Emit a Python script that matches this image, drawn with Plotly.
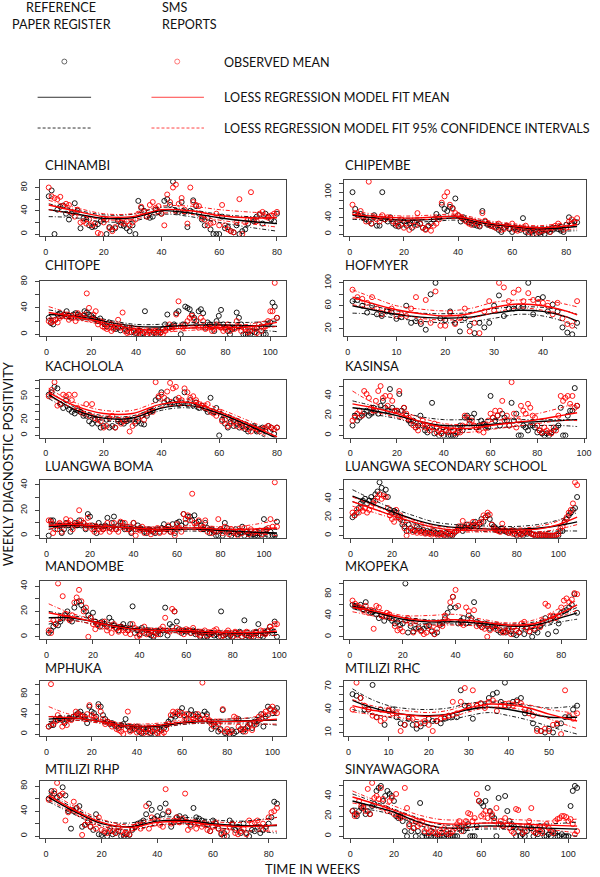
import plotly.graph_objects as go

W, H = 600, 877

# ---------------- DATA (weekly diagnostic positivity) ----------------
# each facility: reference paper register (black) and SMS reports (red); weeks start at 1
chinambi_ref = [65, 75, 0, 42, 47, 49, 35, 25, 35, 53, 40, 10, 27, 25, 15, 12, 13, 17, 22, 26,
                0, 12, 8, 10, 22, 15, 14, 10, 5, 15, 0, 57, 45, 40, 30, 28, 30, 42, 38, 35,
                57, 60, 50, 90, 40, 38, 55, 38, 12, 40, 58, 48, 35, 25, 15, 28, 8, 0, 0, 0,
                30, 10, 12, 5, 3, 15, 0, 5, 8, 18, 25, 22, 30, 33, 18, 35, 30, 25, 22, 35]
chinambi_sms = [80, 65, 62, 60, 64, 48, 52, 50, 38, 30, 42, 20, 22, 18, 25, 15, 18, 2, 0, 20,
                25, 10, 5, 12, 25, 20, 18, 22, 15, 20, 25, 35, 47, 38, 30, 50, 55, 45, 48, 35,
                15, 68, 55, 80, 85, 52, 62, 42, 18, 80, 55, 50, 48, 28, 25, 15, 18, 20, 35, 15,
                50, 15, 8, 5, 3, 20, 60, 0, 20, 25, 72, 25, 22, 35, 38, 30, 28, 32, 35, 38]
chinambi_knots = [1, 10, 20, 30, 40, 50, 60, 70, 80]
chinambi_ref_fit = [[42, 35, 27, 28, 40, 36, 28, 22, 18],
                    [52, 42, 33, 34, 46, 42, 34, 30, 28],
                    [30, 28, 21, 22, 34, 30, 20, 12, 5]]
chinambi_sms_fit = [[50, 40, 30, 30, 42, 40, 32, 28, 28],
                    [58, 46, 35, 35, 48, 48, 42, 38, 35],
                    [42, 34, 25, 25, 36, 34, 24, 18, 12]]

chipembe_ref = [100, 60, 45, 48, 38, 35, 30, 25, 45, 20, 20, 100, 35, 30, 40, 25, 20, 18, 22, 30,
                20, 25, 15, 28, 22, 25, 15, 12, 20, 25, 35, 48, 40, 70, 60, 55, 65, 62, 85, 45,
                30, 40, 32, 28, 25, 22, 20, 18, 55, 30, 22, 20, 18, 15, 10, 5, 15, 20, 12, 5,
                15, 12, 10, 38, 5, 0, 5, 8, 0, 3, 5, 0, 8, 5, 10, 15, 12, 8, 5, 22, 40, 25, 30, 28]
chipembe_sms = [70, 50, 45, 55, 40, 30, 125, 25, 40, 35, 30, 45, 35, 40, 38, 30, 25, 20, 35, 15,
                25, 10, 30, 20, 50, 25, 15, 10, 18, 8, 20, 25, 35, 75, 90, 100, 70, 60, 50, 45,
                40, 35, 30, 25, 22, 30, 25, 20, 50, 32, 25, 20, 18, 15, 25, 10, 12, 20, 15, 25,
                10, 8, 15, 12, 20, 5, 10, 0, 12, 5, 8, 10, 12, 5, 15, 20, 25, 18, 10, 15, 30, 35, 28, 38]
chipembe_knots = [1, 10, 20, 30, 40, 50, 60, 70, 84]
chipembe_ref_fit = [[45, 38, 33, 35, 38, 25, 18, 12, 18],
                    [52, 43, 38, 40, 43, 30, 22, 17, 28],
                    [35, 33, 28, 30, 33, 20, 13, 7, 8]]
chipembe_sms_fit = [[47, 42, 38, 40, 42, 28, 20, 15, 22],
                    [55, 47, 43, 45, 47, 33, 25, 20, 32],
                    [38, 37, 33, 35, 37, 23, 15, 10, 12]]

chitope_ref = [25, 17, 15, 22, 30, 32, 28, 30, 35, 28, 25, 30, 32, 30, 28, 25, 35, 33, 30, 28,
               25, 22, 20, 24, 18, 15, 12, 18, 15, 10, 8, 10, 6, 12, 8, 5, 10, 3, 5, 2,
               5, 0, 2, 35, 0, 5, 0, 2, 0, 5, 3, 8, 15, 30, 10, 12, 15, 32, 35, 0,
               15, 42, 40, 38, 30, 25, 20, 35, 38, 32, 10, 18, 15, 12, 5, 20, 28, 37, 15, 10,
               5, 0, 8, 10, 33, 25, 15, 0, 0, 0, 0, 5, 3, 10, 0, 12, 0, 0, 15, 18, 48, 42, 25]
chitope_sms = [20, 18, 20, 22, 18, 25, 28, 30, 27, 22, 28, 25, 20, 32, 28, 25, 30, 62, 40, 22,
               30, 35, 15, 20, 12, 10, 8, 10, 5, 8, 12, 22, 10, 33, 5, 2, 3, 10, 5, 0,
               2, 5, 0, 3, 0, 2, 0, 5, 3, 0, 2, 0, 5, 10, 15, 8, 12, 30, 50, 12,
               10, 15, 20, 25, 28, 22, 15, 10, 25, 20, 8, 10, 12, 5, 8, 15, 12, 10, 5, 8,
               15, 5, 10, 8, 20, 12, 5, 10, 8, 3, 5, 10, 8, 2, 15, 5, 10, 12, 20, 35, 35, 78, 25]
chitope_knots = [1, 10, 20, 30, 40, 50, 60, 70, 80, 90, 103]
chitope_ref_fit = [[30, 28, 24, 17, 12, 11, 13, 14, 14, 13, 12],
                   [37, 32, 27, 20, 15, 15, 17, 18, 18, 18, 20],
                   [24, 24, 21, 14, 9, 7, 9, 10, 10, 8, 4]]
chitope_sms_fit = [[33, 28, 22, 14, 8, 6, 9, 10, 10, 11, 18],
                   [42, 33, 26, 18, 11, 9, 12, 13, 14, 15, 25],
                   [25, 23, 18, 10, 5, 3, 5, 7, 7, 7, 12]]

hofmyer_ref = [68, 70, 60, 48, 60, 45, 42, 50, 48, 37, 40, 60, 30, 33, 28, 18, 80, 100, 38, 35,
               50, 30, 15, 38, 25, 12, 30, 22, 30, 60, 78, 42, 55, 55, 58, 58, 100, 45, 72, 75,
               50, 62, 50, 22, 13, 10, 30]
hofmyer_sms = [88, 75, 72, 65, 75, 55, 45, 52, 55, 42, 45, 42, 55, 75, 32, 70, 30, 85, 25, 25,
               48, 28, 38, 55, 15, 30, 12, 50, 68, 52, 100, 92, 68, 83, 88, 68, 82, 70, 65, 65,
               60, 45, 65, 38, 28, 25, 68]
hofmyer_knots = [1, 5, 10, 15, 20, 25, 30, 35, 40, 45, 47]
hofmyer_ref_fit = [[60, 53, 45, 40, 38, 40, 47, 52, 50, 40, 33],
                   [68, 60, 51, 47, 46, 48, 55, 58, 57, 50, 45],
                   [47, 45, 38, 33, 30, 32, 38, 45, 42, 30, 20]]
hofmyer_sms_fit = [[75, 64, 53, 46, 42, 46, 57, 63, 60, 50, 44],
                   [88, 75, 60, 54, 51, 55, 66, 70, 70, 62, 58],
                   [62, 55, 47, 38, 35, 38, 48, 56, 52, 40, 30]]

kachalola_ref = [52, 55, 62, 60, 40, 35, 45, 33, 30, 28, 32, 30, 25, 25, 18, 15, 20, 15, 10, 12,
                 20, 10, 12, 10, 18, 17, 15, 18, 20, 20, 15, 18, 15, 14, 25, 30, 32, 45, 48, 55,
                 42, 45, 40, 42, 46, 40, 42, 55, 40, 45, 38, 42, 35, 38, 35, 30, 48, 30, 35, 0,
                 20, 15, 10, 18, 12, 15, 10, 12, 8, 5, 10, 12, 5, 8, 10, 5, 12, 10, 2, 10]
kachalola_sms = [50, 58, 68, 38, 40, 52, 50, 52, 45, 52, 35, 30, 28, 40, 25, 40, 22, 20, 18, 10,
                 12, 22, 25, 10, 20, 15, 18, 20, 5, 12, 18, 22, 25, 20, 28, 32, 30, 68, 50, 52,
                 48, 56, 67, 60, 62, 48, 45, 60, 55, 48, 50, 45, 40, 38, 35, 40, 30, 28, 25, 30,
                 18, 20, 12, 15, 18, 12, 15, 10, 12, 8, 5, 10, 8, 5, 8, 10, 12, 10, 8, 10]
kachalola_knots = [1, 10, 20, 30, 40, 50, 60, 70, 80]
kachalola_ref_fit = [[52, 33, 22, 22, 35, 38, 28, 13, -4],
                     [57, 36, 25, 25, 38, 40, 31, 16, 3],
                     [47, 30, 19, 19, 32, 35, 25, 9, -11]]
kachalola_sms_fit = [[55, 38, 28, 28, 40, 42, 30, 15, -2],
                     [60, 42, 32, 32, 44, 46, 34, 19, 4],
                     [50, 34, 24, 24, 36, 38, 26, 11, -9]]

kasinsa_ref = [10, 20, 15, 18, 20, 22, 25, 20, 22, 28, 25, 22, 30, 35, 28, 25, 47, 28, 25, 25,
               42, 25, 28, 20, 15, 12, 15, 8, 10, 20, 10, 5, 3, 8, 33, 2, 8, 0, 2, 0,
               5, 0, 0, 0, 0, 3, 10, 5, 18, 20, 15, 18, 22, 8, 10, 15, 12, 10, 8, 40,
               18, 15, 20, 10, 22, 18, 15, 10, 33, 15, 22, 0, 0, 10, 8, 5, 10, 10, 8, 3,
               5, 2, 0, 2, 0, 3, 5, 8, 10, 28, 0, 0, 20, 25, 25, 48, 30]
kasinsa_sms = [15, 18, 22, 25, 20, 45, 42, 38, 28, 25, 35, 45, 50, 38, 40, 30, 40, 35, 25, 25,
               45, 20, 28, 22, 18, 15, 10, 8, 5, 12, 15, 8, 10, 5, 8, 12, 3, 5, 2, 8,
               5, 3, 8, 5, 2, 8, 3, 10, 20, 18, 12, 15, 10, 8, 5, 10, 3, 8, 15, 22,
               18, 25, 20, 25, 35, 15, 20, 10, 54, 22, 8, 15, 30, 25, 22, 32, 28, 20, 18, 10,
               5, 3, 8, 5, 3, 2, 8, 5, 20, 40, 35, 38, 40, 32, 40, 28, 30]
kasinsa_knots = [1, 10, 20, 30, 40, 50, 60, 70, 80, 90, 97]
kasinsa_ref_fit = [[28, 25, 20, 14, 10, 10, 11, 13, 14, 15, 16],
                   [35, 30, 25, 19, 16, 16, 16, 16, 16, 16, 16],
                   [22, 21, 17, 10, 6, 6, 7, 9, 10, 10, 9]]
kasinsa_sms_fit = [[32, 28, 22, 14, 8, 7, 10, 13, 16, 20, 23],
                   [45, 33, 26, 18, 12, 11, 14, 18, 22, 28, 33],
                   [20, 23, 18, 10, 4, 3, 6, 9, 12, 15, 15]]

boma_ref = [0, 12, 12, 8, 5, 8, 2, 5, 10, 8, 3, 7, 10, 8, 12, 8, 10, 5, 17, 15,
            8, 5, 2, 10, 7, 5, 8, 14, 6, 10, 15, 5, 8, 10, 10, 5, 7, 5, 2, 10,
            5, 8, 6, 5, 3, 2, 5, 4, 3, 2, 5, 3, 6, 9, 5, 7, 3, 9, 2, 10,
            11, 8, 17, 10, 15, 15, 12, 16, 10, 11, 8, 5, 10, 6, 2, 5, 3, 0, 0, 5,
            0, 10, 6, 3, 0, 2, 5, 1, 2, 7, 0, 3, 2, 0, 1, 0, 0, 2, 0, 13,
            5, 0, 3, 0, 0, 11]
boma_sms = [12, 11, 2, 5, 8, 10, 3, 8, 13, 10, 12, 5, 8, 10, 20, 12, 10, 6, 14, 8,
            5, 3, 7, 5, 3, 5, 6, 10, 3, 5, 10, 5, 3, 11, 8, 10, 5, 7, 3, 10,
            0, 5, 4, 7, 2, 5, 3, 1, 5, 3, 6, 2, 5, 3, 5, 8, 3, 4, 0, 9,
            6, 3, 17, 13, 16, 12, 33, 10, 8, 12, 5, 7, 12, 3, 5, 2, 4, 3, 13, 5,
            2, 7, 3, 1, 5, 3, 2, 0, 4, 2, 6, 3, 1, 5, 2, 3, 2, 4, 1, 3,
            4, 6, 13, 7, 42, 7]
boma_knots = [1, 10, 20, 30, 40, 50, 60, 70, 80, 90, 106]
boma_ref_fit = [[7, 8, 7.5, 7, 6, 5, 5, 5, 4, 3, 2],
                [9, 9.5, 9, 8.5, 7, 6.5, 6.5, 6.5, 5.5, 5, 5],
                [5, 6.5, 6, 5.5, 5, 3.5, 3.5, 3.5, 2.5, 1, -1]]
boma_sms_fit = [[8, 9, 8, 7, 6, 5, 6, 6, 5, 5, 6],
                [11, 10.5, 9.5, 8.5, 7.5, 6.5, 7.5, 8, 7, 7.5, 12],
                [5, 7.5, 6.5, 5.5, 4.5, 3.5, 4.5, 4.5, 3, 2.5, 0]]

lss_ref = [20, 22, 25, 30, 35, 38, 40, 35, 38, 42, 38, 45, 48, 58, 52, 45, 50, 42, 28, 25,
           27, 25, 20, 18, 12, 10, 5, 12, 8, 6, 5, 10, 8, 5, 6, 3, 5, 4, 3, 5,
           3, 2, 3, 2, 0, 3, 2, 0, 0, 3, 5, 8, 10, 5, 8, 12, 8, 10, 12, 15,
           10, 12, 18, 15, 20, 22, 18, 12, 10, 8, 6, 5, 8, 5, 4, 3, 5, 6, 2, 0,
           3, 2, 0, 3, 2, 4, 2, 1, 0, 0, 0, 0, 0, 0, 0, 0, 0, 0, 0, 0,
           5, 5, 15, 18, 22, 25, 28, 30, 42]
lss_sms = [25, 22, 28, 25, 30, 27, 30, 25, 28, 32, 35, 38, 42, 45, 40, 43, 42, 30, 22, 18,
           15, 28, 20, 22, 15, 8, 0, 5, 8, 4, 6, 3, 5, 3, 4, 2, 3, 2, 1, 3,
           2, 0, 1, 2, 1, 0, 3, 2, 1, 4, 5, 10, 8, 16, 10, 8, 12, 10, 15, 12,
           10, 14, 15, 22, 20, 25, 23, 12, 8, 6, 5, 4, 13, 6, 5, 3, 4, 2, 5, 1,
           3, 1, 2, 4, 5, 3, 2, 1, 0, 1, 0, 1, 0, 1, 0, 0, 0, 0, 1, 2,
           8, 10, 14, 20, 25, 28, 35, 58, 55]
lss_knots = [1, 10, 20, 30, 40, 50, 60, 70, 80, 90, 100, 109]
lss_ref_fit = [[43, 35, 26, 18, 12, 9, 8, 7, 7, 8, 11, 15],
               [50, 40, 30, 22, 15, 12, 11, 10, 10, 12, 17, 25],
               [37, 30, 22, 14, 9, 6, 5, 4, 4, 4, 5, 5]]
lss_sms_fit = [[37, 30, 22, 15, 9, 6, 6, 6, 6, 7, 12, 20],
               [42, 34, 25, 17, 11, 8, 8, 8, 8, 10, 16, 28],
               [32, 26, 19, 12, 7, 4, 4, 4, 4, 4, 7, 12]]

mandombe_ref = [3, 5, 8, 10, 9, 12, 15, 17, 20, 14, 12, 23, 27, 28, 25, 22, 20, 17, 15, 19,
                12, 10, 8, 12, 10, 8, 15, 12, 9, 7, 5, 8, 10, 7, 5, 10, 24, 3, 5, 2,
                7, 3, 5, 2, 1, 0, 3, 4, 2, 5, 23, 1, 10, 8, 20, 12, 6, 3, 5, 4,
                5, 3, 5, 2, 4, 0, 3, 0, 0, 2, 3, 1, 2, 0, 20, 1, 2, 0, 1, 0,
                3, 2, 4, 0, 13, 1, 0, 2, 0, 4, 10, 1, 0, 3, 5, 8, 3, 12, 0]
mandombe_sms = [5, 3, 13, 10, 42, 15, 32, 18, 15, 13, 17, 27, 31, 37, 28, 20, 23, 0, 15, 10,
                6, 9, 11, 8, 12, 5, 7, 3, 10, 6, 4, 8, 5, 3, 5, 2, 10, 7, 0, 1,
                4, 8, 2, 3, 5, 1, 3, 2, 6, 8, 15, 5, 4, 22, 20, 7, 4, 5, 2, 6,
                5, 3, 7, 4, 2, 1, 3, 5, 1, 3, 2, 5, 6, 3, 0, 1, 3, 5, 2, 0,
                4, 1, 3, 0, 2, 4, 1, 0, 2, 3, 1, 5, 3, 2, 4, 8, 5, 10, 10]
mandombe_knots = [1, 10, 20, 30, 40, 50, 60, 70, 80, 90, 99]
mandombe_ref_fit = [[15, 15, 12, 8.5, 6, 5, 4.5, 3.5, 3, 3, 3.5],
                    [20, 17, 14, 10, 7.5, 6.5, 6, 5, 4.5, 5, 6],
                    [10, 13, 10, 7, 4.5, 3.5, 3, 2, 1.5, 1, 1]]
mandombe_sms_fit = [[19, 16, 12, 8, 5.5, 5, 5, 4, 3.5, 3.5, 4.5],
                    [26, 19, 14, 10, 7, 6.5, 6.5, 5.5, 5, 5.5, 8],
                    [12, 13, 10, 6, 4, 3.5, 3.5, 2.5, 2, 1.5, 1]]

mkopeka_ref = [60, 58, 55, 60, 52, 65, 50, 45, 48, 42, 35, 40, 30, 38, 35, 30, 25, 28, 22, 25,
               100, 8, 20, 10, 15, 18, 12, 15, 20, 22, 10, 5, 8, 22, 25, 35, 45, 55, 75, 55,
               25, 30, 35, 25, 40, 35, 65, 28, 22, 18, 25, 20, 15, 18, 20, 12, 8, 10, 8, 12,
               10, 5, 3, 8, 15, 5, 18, 10, 0, 12, 8, 20, 25, 35, 5, 30, 38, 10, 25, 45,
               48, 50, 55, 60, 80, 45]
mkopeka_sms = [68, 62, 58, 55, 50, 58, 45, 50, 15, 58, 55, 40, 38, 45, 42, 35, 20, 12, 15, 10,
               30, 35, 25, 8, 30, 15, 10, 5, 8, 20, 12, 5, 15, 25, 20, 40, 30, 65, 75, 88,
               58, 25, 22, 55, 48, 30, 50, 20, 25, 18, 15, 0, 12, 20, 15, 22, 12, 8, 10, 15,
               5, 18, 12, 8, 25, 28, 15, 10, 20, 15, 22, 18, 30, 62, 58, 38, 40, 35, 40, 55,
               68, 72, 65, 70, 82, 80]
mkopeka_knots = [1, 10, 20, 30, 40, 50, 60, 70, 80, 86]
mkopeka_ref_fit = [[58, 45, 33, 28, 28, 25, 20, 22, 36, 45],
                   [62, 48, 37, 32, 32, 29, 24, 28, 43, 55],
                   [53, 40, 28, 24, 24, 21, 16, 16, 28, 33]]
mkopeka_sms_fit = [[55, 48, 36, 30, 32, 28, 22, 25, 45, 60],
                   [60, 52, 40, 40, 42, 33, 26, 32, 55, 68],
                   [47, 38, 28, 22, 22, 20, 16, 18, 38, 50]]

mphuka_ref = [15, 18, 18, 30, 28, 32, 28, 22, 28, 32, 30, 35, 38, 42, 45, 38, 35, 22, 55, 45,
              42, 35, 60, 55, 38, 30, 25, 20, 22, 18, 15, 12, 18, 20, 30, 15, 8, 12, 10, 15,
              5, 2, 10, 5, 10, 2, 5, 0, 12, 10, 8, 12, 18, 25, 30, 38, 35, 40, 45, 52,
              38, 30, 40, 48, 38, 40, 35, 30, 38, 45, 40, 25, 10, 20, 15, 5, 10, 48, 2, 5,
              0, 8, 2, 5, 30, 10, 5, 10, 15, 20, 12, 25, 20, 28, 40, 15, 35, 55, 50, 42,
              48, 52]
mphuka_sms = [15, 100, 20, 25, 38, 30, 15, 25, 18, 30, 28, 35, 45, 40, 38, 35, 30, 40, 58, 38,
              35, 30, 55, 45, 30, 20, 25, 22, 15, 20, 10, 8, 5, 0, 10, 45, 5, 8, 15, 3,
              8, 5, 2, 10, 3, 8, 5, 10, 2, 5, 0, 3, 10, 20, 38, 45, 42, 45, 38, 42,
              35, 40, 28, 38, 30, 35, 40, 32, 103, 30, 35, 28, 20, 15, 25, 20, 8, 50, 5, 10,
              3, 5, 35, 32, 15, 8, 10, 5, 12, 20, 8, 18, 25, 35, 30, 40, 45, 38, 50, 55,
              45, 42]
mphuka_knots = [1, 10, 20, 30, 40, 50, 60, 70, 80, 90, 102]
mphuka_ref_fit = [[30, 32, 28, 20, 15, 16, 22, 25, 26, 27, 28],
                  [35, 36, 31, 23, 18, 19, 25, 28, 30, 32, 38],
                  [25, 28, 25, 17, 12, 13, 19, 22, 22, 22, 18]]
mphuka_sms_fit = [[35, 33, 28, 20, 16, 18, 24, 26, 25, 26, 30],
                  [55, 40, 33, 24, 20, 22, 28, 30, 30, 33, 45],
                  [20, 28, 24, 17, 12, 14, 20, 22, 20, 20, 20]]

rhc_ref = [60, 58, 55, 40, 40, 72, 30, 40, 20, 38, 40, 30, 22, 20, 28, 20, 15, 18, 22, 28,
           25, 25, 22, 28, 30, 32, 30, 65, 45, 42, 28, 45, 48, 45, 55, 60, 62, 50, 75, 45,
           50, 52, 55, 35, 38, 22, 15, 12, 10, 15, 10, 20, 22, 30, 30, 40, 45]
rhc_sms = [40, 75, 55, 45, 40, 32, 30, 25, 28, 40, 35, 35, 12, 20, 30, 28, 20, 22, 25, 20,
           12, 25, 28, 30, 32, 50, 35, 50, 68, 45, 65, 45, 48, 42, 50, 52, 38, 45, 45, 48,
           45, 50, 48, 40, 35, 32, 12, 12, 15, 12, 20, 22, 8, 65, 32, 28, 35]
rhc_knots = [1, 5, 10, 15, 20, 25, 30, 35, 40, 45, 50, 57]
rhc_ref_fit = [[52, 44, 37, 33, 32, 34, 40, 43, 40, 35, 30, 30],
               [67, 55, 45, 41, 40, 42, 48, 50, 48, 45, 42, 45],
               [40, 35, 30, 25, 24, 26, 32, 36, 32, 26, 18, 8]]
rhc_sms_fit = [[45, 40, 36, 33, 31, 34, 42, 47, 46, 42, 34, 25],
               [53, 46, 41, 38, 36, 39, 47, 51, 50, 46, 40, 35],
               [37, 34, 31, 28, 26, 29, 37, 43, 42, 38, 28, 15]]

rhp_ref = [60, 72, 68, 62, 65, 78, 65, 40, 12, 40, 45, 48, 15, 18, 22, 15, 10, 35, 3, 2,
           5, 0, 8, 3, 5, 8, 0, 0, 3, 2, 10, 15, 20, 22, 25, 35, 52, 42, 28, 32,
           45, 35, 52, 38, 15, 22, 30, 32, 25, 30, 22, 18, 45, 30, 28, 25, 22, 18, 8, 25,
           20, 12, 3, 5, 0, 25, 18, 10, 15, 5, 20, 5, 0, 10, 8, 15, 5, 10, 15, 20,
           30, 55, 52]
rhp_sms = [58, 62, 72, 85, 65, 68, 25, 38, 42, 55, 45, 35, 2, 18, 25, 15, 22, 12, 30, 10,
           8, 5, 12, 8, 5, 15, 8, 3, 5, 3, 12, 15, 18, 12, 22, 48, 12, 30, 20, 25,
           18, 15, 75, 40, 20, 25, 30, 22, 28, 68, 10, 15, 22, 12, 20, 15, 18, 10, 8, 15,
           22, 12, 5, 0, 8, 15, 20, 5, 3, 8, 12, 3, 25, 20, 22, 25, 15, 20, 12, 30,
           38, 40, 45]
rhp_knots = [1, 10, 20, 30, 40, 50, 60, 70, 83]
rhp_ref_fit = [[62, 40, 20, 15, 24, 25, 20, 17, 17],
               [68, 45, 25, 21, 30, 30, 26, 24, 30],
               [55, 35, 16, 10, 18, 20, 14, 10, 5]]
rhp_sms_fit = [[65, 42, 22, 14, 22, 23, 18, 15, 18],
               [72, 48, 27, 18, 27, 27, 23, 22, 30],
               [58, 37, 17, 9, 17, 19, 13, 9, 8]]

sinya_ref = [25, 22, 20, 25, 28, 30, 22, 25, 22, 30, 32, 45, 48, 50, 35, 40, 45, 42, 40, 35,
             20, 18, 20, 15, 5, 0, 12, 5, 8, 0, 5, 33, 0, 3, 0, 0, 0, 3, 0, 0,
             0, 0, 0, 2, 0, 0, 0, 0, 0, 8, 10, 5, 8, 12, 0, 0, 0, 10, 35, 33,
             30, 35, 48, 25, 20, 18, 0, 38, 12, 10, 40, 25, 15, 12, 10, 0, 5, 0, 2, 0,
             5, 10, 8, 0, 3, 2, 10, 5, 0, 0, 2, 0, 5, 3, 0, 0, 2, 0, 0, 0,
             30, 45, 50, 48]
sinya_sms = [25, 20, 22, 35, 30, 28, 25, 47, 22, 53, 38, 40, 37, 48, 37, 28, 25, 35, 38, 22,
             42, 20, 18, 20, 48, 28, 10, 15, 8, 15, 10, 12, 15, 5, 8, 3, 5, 8, 3, 2,
             5, 3, 8, 5, 2, 3, 5, 8, 12, 15, 5, 12, 15, 23, 22, 15, 18, 42, 35, 20,
             22, 25, 18, 24, 22, 15, 28, 12, 15, 10, 18, 12, 8, 5, 3, 27, 26, 8, 3, 5,
             10, 15, 28, 5, 3, 8, 5, 3, 10, 12, 8, 5, 3, 15, 17, 18, 20, 20, 19, 15,
             17, 12, 2, 5]
sinya_knots = [1, 10, 20, 30, 40, 50, 60, 70, 80, 90, 104]
sinya_ref_fit = [[35, 30, 24, 15, 9, 8, 10, 10, 9, 8, 7],
                 [42, 35, 27, 19, 12, 11, 13, 13, 12, 12, 14],
                 [28, 26, 21, 12, 6, 5, 7, 7, 6, 4, 0]]
sinya_sms_fit = [[39, 33, 26, 18, 13, 12, 13, 13, 12, 11, 10],
                 [45, 37, 30, 22, 17, 16, 17, 17, 16, 15, 17],
                 [33, 29, 22, 14, 9, 8, 9, 9, 8, 7, 3]]

facility_names = ["CHINAMBI", "CHIPEMBE", "CHITOPE", "HOFMYER", "KACHOLOLA", "KASINSA",
                  "LUANGWA BOMA", "LUANGWA SECONDARY SCHOOL", "MANDOMBE", "MKOPEKA",
                  "MPHUKA", "MTILIZI RHC", "MTILIZI RHP", "SINYAWAGORA"]
ref_series = [chinambi_ref, chipembe_ref, chitope_ref, hofmyer_ref, kachalola_ref, kasinsa_ref,
              boma_ref, lss_ref, mandombe_ref, mkopeka_ref, mphuka_ref, rhc_ref, rhp_ref, sinya_ref]
sms_series = [chinambi_sms, chipembe_sms, chitope_sms, hofmyer_sms, kachalola_sms, kasinsa_sms,
              boma_sms, lss_sms, mandombe_sms, mkopeka_sms, mphuka_sms, rhc_sms, rhp_sms, sinya_sms]
knot_series = [chinambi_knots, chipembe_knots, chitope_knots, hofmyer_knots, kachalola_knots,
               kasinsa_knots, boma_knots, lss_knots, mandombe_knots, mkopeka_knots,
               mphuka_knots, rhc_knots, rhp_knots, sinya_knots]
ref_fits = [chinambi_ref_fit, chipembe_ref_fit, chitope_ref_fit, hofmyer_ref_fit, kachalola_ref_fit,
            kasinsa_ref_fit, boma_ref_fit, lss_ref_fit, mandombe_ref_fit, mkopeka_ref_fit,
            mphuka_ref_fit, rhc_ref_fit, rhp_ref_fit, sinya_ref_fit]
sms_fits = [chinambi_sms_fit, chipembe_sms_fit, chitope_sms_fit, hofmyer_sms_fit, kachalola_sms_fit,
            kasinsa_sms_fit, boma_sms_fit, lss_sms_fit, mandombe_sms_fit, mkopeka_sms_fit,
            mphuka_sms_fit, rhc_sms_fit, rhp_sms_fit, sinya_sms_fit]

# tick marks and which of them carry labels
x_ticks = [[0, 20, 40, 60, 80], [0, 20, 40, 60, 80], [0, 20, 40, 60, 80, 100], [0, 10, 20, 30, 40],
           [0, 20, 40, 60, 80], [0, 20, 40, 60, 80, 100], [0, 20, 40, 60, 80, 100],
           [0, 20, 40, 60, 80, 100], [0, 20, 40, 60, 80, 100], [0, 20, 40, 60, 80],
           [0, 20, 40, 60, 80, 100], [0, 10, 20, 30, 40, 50], [0, 20, 40, 60, 80],
           [0, 20, 40, 60, 80, 100]]
y_ticks = [[0, 20, 40, 60, 80], [0, 20, 40, 60, 80, 100, 120], [0, 20, 40, 60, 80],
           [20, 40, 60, 80, 100], [0, 10, 20, 30, 40, 50, 60, 70], [0, 10, 20, 30, 40, 50],
           [0, 10, 20, 30, 40], [0, 10, 20, 30, 40, 50], [0, 10, 20, 30, 40],
           [0, 20, 40, 60, 80, 100], [0, 20, 40, 60, 80, 100], [10, 20, 30, 40, 50, 60, 70],
           [0, 20, 40, 60, 80], [0, 10, 20, 30, 40, 50]]
y_labels = [[0, 40, 80], [0, 40, 100], [0, 40, 80], [20, 60, 100], [0, 20, 50], [0, 20, 40],
            [0, 20, 40], [0, 20, 40], [0, 20, 40], [0, 40, 80], [0, 40, 80], [10, 40, 70],
            [0, 40, 80], [0, 20, 40]]

# ---------------- LAYOUT (pixel geometry) ----------------
col_px = [(40, 289), (347, 592)]
row_px = [(174, 231), (276, 332), (376, 434), (477, 535), (579, 637), (679, 735), (780, 838)]
title_px = [159, 260, 362, 463, 564, 666, 768]
title_x_px = [44, 347]

BLACK = "#000000"
RED = "#ff0000"
AXC = "#444444"
TITLE_FONT = "Lato"
CI_DASH = "4px,2px,1px,2px"

fig = go.Figure()
annotations = []
shapes = []

for i, name in enumerate(facility_names):
    r, c = divmod(i, 2)
    k = i + 1
    xa = "x" if k == 1 else f"x{k}"
    ya = "y" if k == 1 else f"y{k}"
    ref = ref_series[i]
    sms = sms_series[i]
    n = max(len(ref), len(sms))
    xr = [1 - 0.04 * (n - 1), n + 0.04 * (n - 1)]
    allv = ref + sms
    lo, hi = min(allv), max(allv)
    yr = [lo - 0.04 * (hi - lo), hi + 0.04 * (hi - lo)]

    fig.add_trace(go.Scatter(x=list(range(1, len(ref) + 1)), y=ref, mode="markers",
                             marker=dict(symbol="circle-open", size=5, color=BLACK,
                                         line=dict(width=0.9, color=BLACK)),
                             xaxis=xa, yaxis=ya, showlegend=False, cliponaxis=True))
    fig.add_trace(go.Scatter(x=list(range(1, len(sms) + 1)), y=sms, mode="markers",
                             marker=dict(symbol="circle-open", size=5, color=RED,
                                         line=dict(width=0.9, color=RED)),
                             xaxis=xa, yaxis=ya, showlegend=False, cliponaxis=True))
    kn = knot_series[i]
    for fits, col in ((ref_fits[i], BLACK), (sms_fits[i], RED)):
        for j, vals in enumerate(fits):
            fig.add_trace(go.Scatter(
                x=kn, y=vals, mode="lines",
                line=dict(color=col, width=1.4 if j == 0 else 0.9,
                          dash="solid" if j == 0 else CI_DASH,
                          shape="spline", smoothing=1.0),
                xaxis=xa, yaxis=ya, showlegend=False, hoverinfo="skip"))

    x0, x1 = col_px[c]
    top, bot = row_px[r]
    xkey = "xaxis" if k == 1 else f"xaxis{k}"
    ykey = "yaxis" if k == 1 else f"yaxis{k}"
    fig.layout[xkey] = dict(
        domain=[x0 / W, x1 / W], anchor=ya, range=xr,
        tickmode="array", tickvals=x_ticks[i], ticktext=[str(t) for t in x_ticks[i]],
        ticks="outside", ticklen=4, tickwidth=1, tickcolor=AXC,
        showline=True, mirror=True, linecolor=AXC, linewidth=1,
        showgrid=False, zeroline=False, ticklabelstandoff=3,
        tickfont=dict(family="Liberation Sans, Arial", size=9, color="#222"))
    fig.layout[ykey] = dict(
        domain=[1 - bot / H, 1 - top / H], anchor=xa, range=yr,
        tickmode="array", tickvals=y_ticks[i],
        ticktext=[str(t) if t in y_labels[i] else "" for t in y_ticks[i]],
        tickangle=-90,
        ticks="outside", ticklen=4, tickwidth=1, tickcolor=AXC,
        showline=True, mirror=True, linecolor=AXC, linewidth=1,
        showgrid=False, zeroline=False, ticklabelstandoff=4,
        tickfont=dict(family="Liberation Sans, Arial", size=9, color="#222"))

    annotations.append(dict(text=name, x=title_x_px[c] / W, y=1 - title_px[r] / H,
                            xref="paper", yref="paper", xanchor="left", yanchor="middle",
                            showarrow=False, borderpad=0,
                            font=dict(family=TITLE_FONT, size=13, color="#111")))

# axis titles
annotations.append(dict(text="WEEKLY DIAGNOSTIC POSITIVITY", x=8 / W, y=1 - 460 / H,
                        xref="paper", yref="paper", textangle=-90, showarrow=False,
                        xanchor="center", yanchor="middle",
                        font=dict(family=TITLE_FONT, size=13, color="#111")))
annotations.append(dict(text="TIME IN WEEKS", x=316 / W, y=1 - 869 / H,
                        xref="paper", yref="paper", showarrow=False,
                        xanchor="center", yanchor="middle",
                        font=dict(family=TITLE_FONT, size=13, color="#111")))

# legend block at the top
LEG_FONT = dict(family=TITLE_FONT, size=12.6, color="#111")
for txt, xx, yy, anc in (("REFERENCE", 62, 0, "center"), ("PAPER REGISTER", 62, 18, "center"),
                         ("SMS", 162, 0, "left"), ("REPORTS", 162, 18, "left"),
                         ("OBSERVED MEAN", 224, 56, "left"),
                         ("LOESS REGRESSION MODEL FIT MEAN", 224, 91, "left"),
                         ("LOESS REGRESSION MODEL FIT 95% CONFIDENCE INTERVALS", 224, 122, "left")):
    annotations.append(dict(text=txt, x=xx / W, y=1 - yy / H, xref="paper", yref="paper",
                            xanchor=anc, yanchor="middle", showarrow=False, font=LEG_FONT))

for cx, col in ((65, "#555555"), (179, "#ff6666")):
    shapes.append(dict(type="circle", xref="paper", yref="paper",
                       x0=(cx - 2.5) / W, x1=(cx + 2.5) / W,
                       y0=1 - (55 + 2.5) / H, y1=1 - (55 - 2.5) / H,
                       line=dict(color=col, width=0.9)))
for (xa0, xa1), col in (((38, 92), "#333333"), ((153, 206), "#ff4444")):
    shapes.append(dict(type="line", xref="paper", yref="paper", x0=xa0 / W, x1=xa1 / W,
                       y0=1 - 91 / H, y1=1 - 91 / H, line=dict(color=col, width=1)))
    shapes.append(dict(type="line", xref="paper", yref="paper", x0=xa0 / W, x1=xa1 / W,
                       y0=1 - 122 / H, y1=1 - 122 / H,
                       line=dict(color=col, width=1, dash="3px,2px")))

fig.update_layout(width=W, height=H, margin=dict(l=0, r=0, t=0, b=0),
                  paper_bgcolor="white", plot_bgcolor="white",
                  annotations=annotations, shapes=shapes, showlegend=False)

fig.write_html("out.html", config={"displayModeBar": False},
               post_script="document.documentElement.style.margin='0';"
                           "document.body.style.margin='0';document.body.style.padding='0';")
